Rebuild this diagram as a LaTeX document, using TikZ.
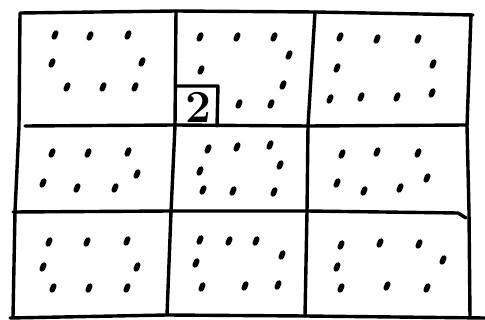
\documentclass[tikz,border=0pt]{standalone}
\usepackage{tikz}
\usetikzlibrary{
  calc
}
\usepackage{amsmath}

\begin{document}
\begin{tikzpicture}[scale=1, x = 1pt, y = -1pt]
  \tikzset{
    gridline/.style = {line width = 3.4pt, line join = round, line cap = round},
    blob/.style = {line width = 5.4pt, line cap = round}
  }
  \useasboundingbox (0,0) rectangle (485,320);

  % frame
  \draw[gridline] (473,15) -- (315,12) -- (176,11) -- (20,13) -- (19,126) -- (15,212) -- (13,317);
  \draw[gridline] (10,318) -- (167,315) -- (305,316) -- (485,318);
  \draw[gridline] (471,15) -- (467,126) -- (469,212) -- (470,317);

  % inner lines
  \draw[gridline] (176,11) -- (175,126) -- (171,212) -- (167,315);
  \draw[gridline] (315,12) -- (308,126) -- (307,212) -- (305,316);
  \draw[gridline] (25,126) -- (175,125) -- (308,126) -- (467,125);
  \draw[gridline] (13,212) -- (171,211) -- (307,211) -- (458,213) -- (466,218);

  % little box
  \draw[gridline] (176,86) -- (218,86) -- (217,126);
  \node[font = \fontsize{46}{46}\selectfont\bfseries, inner sep = 0pt] (two) at (198,107) {2};

  \draw[blob]
    (55,35) +(0.8,-2) -- +(-0.8,2) (90,36) +(0.8,-2) -- +(-0.8,2) (128,35) +(0.8,-2) -- +(-0.8,2)
    (52,63) +(0.8,-2) -- +(-0.8,2) (142,62) +(0.8,-2) -- +(-0.8,2)
    (67,87) +(0.8,-2) -- +(-0.8,2) (103,87) +(0.8,-2) -- +(-0.8,2) (135,87) +(0.8,-2) -- +(-0.8,2);
  \draw[blob]
    (200,37) +(0.8,-2) -- +(-0.8,2) (237,37) +(0.8,-2) -- +(-0.8,2) (274,37) +(0.8,-2) -- +(-0.8,2)
    (289,55) +(0.8,-2) -- +(-0.8,2) (201,70) +(0.8,-2) -- +(-0.8,2)
    (283,85) +(0.8,-2) -- +(-0.8,2) (239,104) +(0.8,-2) -- +(-0.8,2) (271,104) +(0.8,-2) -- +(-0.8,2);
  \draw[blob]
    (340,37) +(0.8,-2) -- +(-0.8,2) (377,39) +(0.8,-2) -- +(-0.8,2) (418,39) +(0.8,-2) -- +(-0.8,2)
    (337,68) +(0.8,-2) -- +(-0.8,2) (433,64) +(0.8,-2) -- +(-0.8,2)
    (330,99) +(0.8,-2) -- +(-0.8,2) (361,97) +(0.8,-2) -- +(-0.8,2) (397,97) +(0.8,-2) -- +(-0.8,2) (432,93) +(0.8,-2) -- +(-0.8,2);

  \draw[blob]
    (52,153) +(0.8,-2) -- +(-0.8,2) (88,153) +(0.8,-2) -- +(-0.8,2) (128,152) +(0.8,-2) -- +(-0.8,2)
    (137,174) +(0.8,-2) -- +(-0.8,2) (43,183) +(0.8,-2) -- +(-0.8,2)
    (77,188) +(0.8,-2) -- +(-0.8,2) (115,188) +(0.8,-2) -- +(-0.8,2);
  \draw[blob]
    (208,149) +(0.8,-2) -- +(-0.8,2) (237,147) +(0.8,-2) -- +(-0.8,2) (270,145) +(0.8,-2) -- +(-0.8,2)
    (280,165) +(0.8,-2) -- +(-0.8,2) (200,171) +(0.8,-2) -- +(-0.8,2)
    (203,190) +(0.8,-2) -- +(-0.8,2) (233,191) +(0.8,-2) -- +(-0.8,2) (274,192) +(0.8,-2) -- +(-0.8,2);
  \draw[blob]
    (342,154) +(0.8,-2) -- +(-0.8,2) (377,152) +(0.8,-2) -- +(-0.8,2) (418,153) +(0.8,-2) -- +(-0.8,2)
    (427,178) +(0.8,-2) -- +(-0.8,2) (337,183) +(0.8,-2) -- +(-0.8,2)
    (364,191) +(0.8,-2) -- +(-0.8,2) (400,188) +(0.8,-2) -- +(-0.8,2);

  \draw[blob]
    (49,242) +(0.8,-2) -- +(-0.8,2) (87,242) +(0.8,-2) -- +(-0.8,2) (127,241) +(0.8,-2) -- +(-0.8,2)
    (43,267) +(0.8,-2) -- +(-0.8,2) (137,267) +(0.8,-2) -- +(-0.8,2)
    (53,288) +(0.8,-2) -- +(-0.8,2) (89,288) +(0.8,-2) -- +(-0.8,2) (127,288) +(0.8,-2) -- +(-0.8,2);
  \draw[blob]
    (200,240) +(0.8,-2) -- +(-0.8,2) (229,241) +(0.8,-2) -- +(-0.8,2) (256,241) +(0.8,-2) -- +(-0.8,2)
    (282,255) +(0.8,-2) -- +(-0.8,2) (196,263) +(0.8,-2) -- +(-0.8,2)
    (202,287) +(0.8,-2) -- +(-0.8,2) (245,286) +(0.8,-2) -- +(-0.8,2) (278,285) +(0.8,-2) -- +(-0.8,2);
  \draw[blob]
    (341,245) +(0.8,-2) -- +(-0.8,2) (380,243) +(0.8,-2) -- +(-0.8,2) (419,244) +(0.8,-2) -- +(-0.8,2)
    (443,260) +(0.8,-2) -- +(-0.8,2) (337,267) +(0.8,-2) -- +(-0.8,2)
    (341,288) +(0.8,-2) -- +(-0.8,2) (387,286) +(0.8,-2) -- +(-0.8,2) (427,288) +(0.8,-2) -- +(-0.8,2);
\end{tikzpicture}
\end{document}
